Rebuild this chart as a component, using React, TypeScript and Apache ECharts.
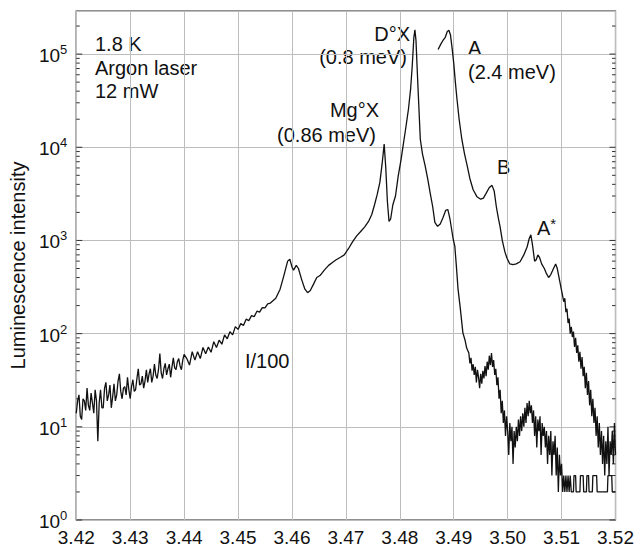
import React, { useEffect, useRef } from "react";
import * as echarts from "echarts";

// ---- Data (photon energy in eV, luminescence intensity) ----
// Scaled spectrum (I/100), left noisy wing
const scaledLeftWing: number[][] = [
  [3.42000, 14], [3.42025, 19], [3.42050, 22], [3.42075, 13], [3.42100, 12], [3.42125, 20],
  [3.42150, 19], [3.42175, 15], [3.42200, 26], [3.42225, 17], [3.42250, 15], [3.42275, 23],
  [3.42300, 18], [3.42325, 14], [3.42350, 25], [3.42375, 19], [3.42400, 7], [3.42425, 18],
  [3.42450, 25], [3.42475, 16], [3.42500, 16], [3.42525, 26], [3.42550, 30], [3.42575, 19],
  [3.42600, 22], [3.42625, 28], [3.42650, 16], [3.42675, 21], [3.42700, 29], [3.42725, 19],
  [3.42750, 22], [3.42775, 31], [3.42800, 37], [3.42825, 24], [3.42850, 20], [3.42875, 26],
  [3.42900, 27], [3.42925, 22], [3.42950, 34], [3.42975, 25], [3.43000, 20], [3.43025, 27],
  [3.43050, 32], [3.43075, 24], [3.43100, 25], [3.43125, 33], [3.43150, 42], [3.43175, 28],
  [3.43200, 29], [3.43225, 35], [3.43250, 26], [3.43275, 31], [3.43300, 41], [3.43325, 30],
  [3.43350, 37], [3.43375, 42], [3.43400, 30], [3.43425, 35], [3.43450, 47], [3.43475, 36],
  [3.43500, 33], [3.43525, 41], [3.43550, 61], [3.43575, 38], [3.43600, 33], [3.43625, 42],
  [3.43650, 48], [3.43675, 36], [3.43700, 42], [3.43725, 47], [3.43750, 34], [3.43775, 44],
  [3.43800, 55], [3.43825, 43], [3.43850, 41], [3.43875, 50], [3.43900, 54], [3.43925, 45],
  [3.43950, 41], [3.43975, 52], [3.44000, 60],
  [3.4405, 54], [3.4410, 46], [3.4415, 64], [3.4420, 52], [3.4425, 64], [3.4430, 54],
  [3.4435, 71], [3.4440, 61], [3.4445, 72], [3.4450, 63], [3.4455, 82], [3.4460, 71],
  [3.4465, 85], [3.4470, 77], [3.4475, 97], [3.4480, 88], [3.4485, 105], [3.4490, 97],
  [3.4495, 119], [3.4500, 111], [3.4505, 128], [3.4510, 122], [3.4515, 143], [3.4520, 138],
  [3.4525, 156], [3.4530, 152], [3.4535, 174], [3.4540, 170], [3.4545, 190], [3.4550, 189],
  [3.4555, 209], [3.4560, 213],
];
// Scaled spectrum (I/100), excitonic region
const scaledPeaks: number[][] = [
  [3.4570, 240], [3.4578, 300], [3.4585, 420], [3.4592, 600], [3.4596, 630], [3.4600, 520],
  [3.4603, 480], [3.4608, 540], [3.4612, 500], [3.4618, 380], [3.4624, 300], [3.4629, 275],
  [3.4634, 290], [3.4640, 340], [3.4646, 400], [3.4652, 420], [3.4660, 480], [3.4668, 540],
  [3.4675, 580], [3.4682, 620], [3.4690, 660], [3.4697, 700], [3.4705, 820], [3.4712, 960],
  [3.4720, 1120], [3.4727, 1240], [3.4735, 1400], [3.4742, 1600], [3.4748, 1900], [3.4753, 2400],
  [3.4758, 3100], [3.4763, 4200], [3.4767, 6500], [3.4771, 10800], [3.4774, 6000], [3.4777, 2600],
  [3.4780, 1600], [3.4783, 1700], [3.4787, 2400], [3.4792, 3000], [3.4797, 4900], [3.4802, 7200],
  [3.4806, 10300], [3.4811, 16000], [3.4816, 25600], [3.4820, 42000], [3.4823, 74000], [3.4826, 150000],
  [3.4828, 182000], [3.4830, 140000], [3.4832, 74000], [3.4835, 30000], [3.4838, 12200], [3.4842, 8500],
  [3.4847, 6300], [3.4852, 4500], [3.4856, 3300], [3.4861, 2300], [3.4865, 1560], [3.4870, 1420],
  [3.4875, 1500], [3.4880, 1750], [3.4885, 2100], [3.4889, 2150], [3.4893, 1700], [3.4899, 1030],
  [3.4902, 870], [3.4905, 520], [3.4908, 300], [3.4912, 190], [3.4917, 102], [3.4921, 85],
  [3.4924, 70],
];
// Scaled spectrum (I/100), high-energy noisy tail
const scaledRightTail: number[][] = [
  [3.4928, 62], [3.4930, 48], [3.4932, 55], [3.4934, 40], [3.4936, 47], [3.4938, 36],
  [3.4940, 44], [3.4942, 30], [3.4944, 41], [3.4946, 34], [3.4948, 26], [3.4950, 37],
  [3.4952, 29], [3.4954, 40], [3.4956, 33], [3.4958, 45], [3.4960, 35], [3.4962, 50],
  [3.4964, 41], [3.4966, 58], [3.4968, 46], [3.4970, 62], [3.4972, 44], [3.4974, 52],
  [3.4976, 36], [3.4978, 42], [3.4980, 28], [3.4982, 34], [3.4984, 20], [3.4986, 25],
  [3.4988, 14], [3.4990, 19], [3.4992, 11], [3.4994, 15], [3.4996, 8], [3.4998, 13],
  [3.5000, 9], [3.5002, 5], [3.5004, 11], [3.5006, 7], [3.5008, 10], [3.5010, 4],
  [3.5012, 9], [3.5014, 6], [3.5016, 10], [3.5018, 7], [3.5020, 12], [3.5022, 8],
  [3.5024, 13], [3.5026, 9], [3.5028, 14], [3.5030, 10], [3.5032, 16], [3.5034, 11],
  [3.5036, 18], [3.5038, 13], [3.5040, 19], [3.5042, 14], [3.5044, 17], [3.5046, 11],
  [3.5048, 15], [3.5050, 8], [3.5052, 13], [3.5054, 6], [3.5056, 12], [3.5058, 9],
  [3.5060, 13], [3.5062, 5], [3.5064, 11], [3.5066, 8], [3.5068, 10], [3.5070, 6],
  [3.5072, 9], [3.5074, 4], [3.5076, 8], [3.5078, 5], [3.5080, 9], [3.5082, 3],
  [3.5084, 7], [3.5086, 5], [3.5088, 8], [3.5090, 3], [3.5092, 6], [3.5094, 2],
  [3.5096, 5], [3.5098, 3], [3.5100, 4], [3.5102, 2], [3.5104, 3], [3.5106, 2],
  [3.5108, 3], [3.5110, 2], [3.5112, 3], [3.5114, 2], [3.5116, 3], [3.5118, 2],
  [3.5122, 2], [3.5123, 3], [3.5126, 3], [3.5127, 2], [3.5134, 2], [3.5135, 3],
  [3.5140, 3], [3.5141, 2], [3.5146, 2], [3.5147, 3], [3.5150, 3], [3.5151, 2],
  [3.5157, 2], [3.5158, 3], [3.5165, 3], [3.5166, 2], [3.5185, 2], [3.5186, 3],
  [3.5193, 3], [3.5194, 2], [3.5200, 2],
];
// Unscaled spectrum (I), A / B / A* region
const fullSpectrum: number[][] = [
  [3.4871, 112000], [3.4876, 128000], [3.4880, 140000], [3.4884, 150000], [3.4888, 175000],
  [3.4891, 180000], [3.4894, 160000], [3.4897, 115000], [3.4900, 80000], [3.4903, 50000],
  [3.4906, 33000], [3.4910, 20000], [3.4915, 12200], [3.4920, 8500], [3.4925, 6300],
  [3.4930, 4600], [3.4936, 3500], [3.4943, 2950], [3.4950, 2770], [3.4955, 2850],
  [3.4960, 3200], [3.4966, 3700], [3.4971, 3900], [3.4975, 3400], [3.4979, 2300],
  [3.4983, 1700], [3.4986, 1400], [3.4990, 1000], [3.4995, 750], [3.4999, 640],
  [3.5004, 560], [3.5010, 550], [3.5016, 560], [3.5023, 590], [3.5030, 700],
  [3.5036, 850], [3.5040, 1050], [3.5043, 1150], [3.5046, 900], [3.5050, 600],
  [3.5053, 620], [3.5056, 700], [3.5059, 660], [3.5063, 560], [3.5068, 500],
  [3.5072, 440], [3.5076, 400], [3.5080, 430], [3.5085, 500], [3.5089, 560],
  [3.5092, 500], [3.5096, 380], [3.5100, 290], [3.5104, 220], [3.5106, 240],
  [3.5108, 170], [3.5110, 185], [3.5112, 130], [3.5114, 145], [3.5116, 100],
  [3.5118, 118], [3.5120, 92], [3.5122, 105], [3.5124, 72], [3.5126, 90],
  [3.5128, 62], [3.5130, 75], [3.5132, 50], [3.5134, 64], [3.5136, 42],
  [3.5138, 56], [3.5140, 35], [3.5142, 44], [3.5144, 26], [3.5146, 38],
  [3.5148, 22], [3.5150, 31], [3.5152, 17], [3.5154, 25], [3.5156, 13],
  [3.5158, 20], [3.5160, 11], [3.5162, 16], [3.5164, 8], [3.5166, 13],
  [3.5168, 6], [3.5170, 11], [3.5172, 5], [3.5174, 9], [3.5176, 4],
  [3.5178, 8], [3.5180, 3], [3.5182, 7], [3.5184, 4], [3.5186, 10],
  [3.5188, 3], [3.5190, 7], [3.5192, 5], [3.5194, 9], [3.5196, 4],
  [3.5198, 11], [3.5200, 5],
];

// Axis ranges and ticks
const xMin = 3.42;
const xMax = 3.52;
const xStep = 0.01;
const yMin = 1;
const yMax = 290000;
const decades = [1, 10, 100, 1000, 10000, 100000];
const minorMultipliers = [2, 3, 4, 5, 6, 7, 8, 9];

const FONT = '"Liberation Sans", Arial, Helvetica, sans-serif';
const ANN = 20;

export default function App() {
  const ref = useRef<HTMLDivElement>(null);

  useEffect(() => {
    if (!ref.current) return;
    document.body.style.margin = "0";
    const chart = echarts.init(ref.current, null, { renderer: "svg" });

    const scaledSpectrum = [...scaledLeftWing, ...scaledPeaks, ...scaledRightTail];

    const tickData: number[][] = [];
    decades.forEach((d) => {
      tickData.push([xMin, d, 1]);
      minorMultipliers.forEach((m) => {
        const v = d * m;
        if (v < yMax) tickData.push([xMin, v, 0]);
      });
    });

    const text = (
      t: string,
      x: number,
      y: number,
      align: "left" | "right" = "left",
      rich?: any
    ) => ({
      type: "text",
      x,
      y,
      silent: true,
      style: {
        text: t,
        fill: "#111",
        fontSize: ANN,
        fontFamily: FONT,
        textAlign: align,
        textVerticalAlign: "middle",
        rich,
      },
    });

    chart.setOption({
      animation: false,
      backgroundColor: "#fff",
      grid: {
        left: 75,
        right: 20,
        top: 11,
        bottom: 28,
        show: true,
        borderColor: "#222",
        borderWidth: 1.2,
        backgroundColor: "transparent",
      },
      xAxis: {
        type: "value",
        min: xMin,
        max: xMax,
        interval: xStep,
        axisLine: { show: false },
        axisTick: { show: false },
        splitLine: { show: true, lineStyle: { color: "#bdbdbd", width: 1 } },
        axisLabel: {
          color: "#111",
          fontFamily: FONT,
          fontSize: 19,
          margin: 8,
          formatter: (v: number) => v.toFixed(2),
        },
      },
      yAxis: {
        type: "log",
        logBase: 10,
        min: yMin,
        max: yMax,
        name: "Luminescence intensity",
        nameLocation: "middle",
        nameGap: 47,
        nameTextStyle: { color: "#111", fontFamily: FONT, fontSize: 20 },
        axisLine: { show: false },
        axisTick: { show: false },
        splitLine: { show: true, lineStyle: { color: "#bdbdbd", width: 1 } },
        axisLabel: {
          showMaxLabel: false,
          margin: 9,
          formatter: (v: number) => `{b|10}{s|${Math.round(Math.log10(v))}}`,
          rich: {
            b: { fontFamily: FONT, fontSize: 19, color: "#111", verticalAlign: "bottom", lineHeight: 22 },
            s: { fontFamily: FONT, fontSize: 13, color: "#111", verticalAlign: "top", lineHeight: 22, padding: [0, 0, 8, 0] },
          },
        },
      },
      series: [
        {
          type: "custom",
          silent: true,
          clip: false,
          data: tickData,
          renderItem: (_p: any, api: any) => {
            const v = api.value(1);
            const major = api.value(2) === 1;
            const l = api.coord([xMin, v]);
            const r = api.coord([xMax, v]);
            const len = major ? 6 : 3.5;
            return {
              type: "group",
              children: [
                { type: "line", shape: { x1: l[0], y1: l[1], x2: l[0] + len, y2: l[1] }, style: { stroke: "#333", lineWidth: 1 } },
                { type: "line", shape: { x1: r[0] - len, y1: r[1], x2: r[0], y2: r[1] }, style: { stroke: "#333", lineWidth: 1 } },
              ],
            };
          },
        },
        {
          name: "I/100",
          type: "line",
          data: scaledSpectrum,
          showSymbol: false,
          symbol: "none",
          lineStyle: { color: "#111", width: 1.3 },
        },
        {
          name: "I",
          type: "line",
          data: fullSpectrum,
          showSymbol: false,
          symbol: "none",
          lineStyle: { color: "#111", width: 1.3 },
        },
      ],
      graphic: [
        text("1.8 K", 95, 44),
        text("Argon laser", 95, 68),
        text("12 mW", 95, 91),
        text("D°X", 410, 34, "right"),
        text("(0.8 meV)", 407, 57, "right"),
        text("Mg°X", 379, 110, "right"),
        text("(0.86 meV)", 376, 135, "right"),
        text("A", 468, 48),
        text("(2.4 meV)", 468, 72),
        text("B", 497, 167),
        text("{n|A}{s|*}", 537, 227, "left", {
          n: { fontFamily: FONT, fontSize: ANN, color: "#111", verticalAlign: "bottom", lineHeight: 22 },
          s: { fontFamily: FONT, fontSize: 15, color: "#111", verticalAlign: "top", lineHeight: 22, padding: [0, 0, 6, 0] },
        }),
        text("I/100", 245, 361),
      ],
    });

    return () => chart.dispose();
  }, []);

  return <div ref={ref} style={{ width: 637, height: 548 }} />;
}
